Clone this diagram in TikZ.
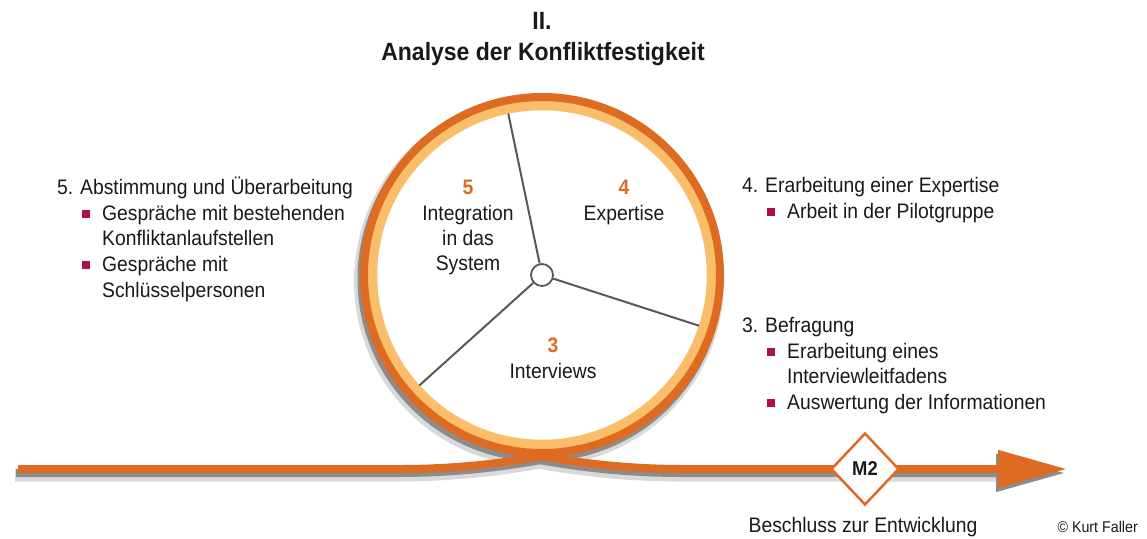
\documentclass[tikz,border=0pt]{standalone}
\usepackage{fontspec}
\setmainfont{Liberation Sans}[FakeStretch=0.92]
\usetikzlibrary{shapes,arrows.meta,calc}
\definecolor{ringOrange}{RGB}{221,107,34}
\definecolor{ringLight}{RGB}{250,190,106}
\definecolor{spokeGray}{RGB}{88,88,90}
\definecolor{bulletRed}{RGB}{172,18,62}
\definecolor{textBlack}{RGB}{25,25,25}
\newcommand{\sqbullet}{\makebox[20pt][l]{\textcolor{bulletRed}{\rule[2.5pt]{7.5pt}{7.5pt}}}}
\newcommand{\listnum}[1]{\makebox[23pt][l]{#1}}
\tikzset{%
  >={Triangle[length=69pt,width=36pt]},
  % Specifications for style of nodes:
          txt/.style = {inner sep=0pt, anchor=base west, text=textBlack,
                        font=\fontsize{21}{26}\selectfont},
      ringtxt/.style = {txt, anchor=base},
      ringnum/.style = {ringtxt, text=ringOrange,
                        font=\fontsize{21}{26}\selectfont\bfseries},
    milestone/.style = {diamond, draw=ringOrange, line width=2.5pt, fill=white,
                        minimum width=68pt, minimum height=72pt, inner sep=0pt,
                        text=textBlack, font=\fontsize{20}{24}\selectfont\bfseries},
        track/.style = {draw=ringOrange, line width=8pt},
   shadowSoft/.style = {draw=black!15, line width=#1},
   shadowHard/.style = {draw=black!45, line width=#1},
        spoke/.style = {draw=spokeGray, line width=2pt},
}

\begin{document}
\begin{tikzpicture}[x=1pt, y=-1pt]
\useasboundingbox (0,0) rectangle (1147,538);

% fixed points
\coordinate (wheelCentre) at (542,275);
\coordinate (lineStart) at (18,469);
\coordinate (arrowTip) at (1067,469);
\coordinate (loopIn) at ($(wheelCentre)+(-78:178pt)$);
\coordinate (loopOut) at ($(wheelCentre)+(-102:178pt)$);
\coordinate (rimTop) at ($(wheelCentre)+(101.8:165pt)$);
\coordinate (rimRight) at ($(wheelCentre)+(-17.9:165pt)$);
\coordinate (rimLeft) at ($(wheelCentre)+(222:165pt)$);

% shadows (plain numbers, so that the shift applies)
\begin{scope}[shift={(-3,6)}]
\draw[shadowSoft=13pt] (18,469) -- (400,469) .. controls (480,469) and (540,457) .. (579,449);
\draw[shadowSoft=13pt] (505,449) .. controls (544,457) and (604,469) .. (684,469) -- (1000,469);
\draw[shadowSoft=14pt] (542,275) circle[radius=178pt];
\end{scope}
\begin{scope}[shift={(-2,4)}]
\draw[shadowHard=8pt] (18,469) -- (400,469) .. controls (480,469) and (540,457) .. (579,449);
\draw[shadowHard=8pt, ->] (505,449) .. controls (544,457) and (604,469) .. (684,469) -- (1067,469);
\draw[shadowHard=9pt] (542,275) circle[radius=178pt];
\end{scope}

% wheel
\fill[white] (wheelCentre) circle[radius=165pt];
\draw[draw=ringLight, line width=9.5pt] (wheelCentre) circle[radius=169.5pt];
\node (hub) at (wheelCentre) [circle, draw=spokeGray, line width=1.8pt, fill=white,
                              minimum size=22pt, inner sep=0pt] {};
\draw[spoke] (hub) -- (rimTop);
\draw[spoke] (hub) -- (rimRight);
\draw[spoke] (hub) -- (rimLeft);

% the track with its loop
\draw[track] (lineStart) -- (400,469) .. controls (480,469) and (540,457) .. (loopIn);
\draw[track, ->] (loopOut) .. controls (544,457) and (604,469) .. (684,469) -- (arrowTip);
\draw[track] (wheelCentre) circle[radius=178pt];

\node (m2) at (865,469) [milestone] {M2};

% title
\node (titleNum) at (542,29) [txt, anchor=base, font=\fontsize{25}{30}\selectfont\bfseries] {II.};
\node (titleText) at (543,60) [txt, anchor=base, font=\fontsize{25}{30}\selectfont\bfseries] {Analyse der Konfliktfestigkeit};

% wheel labels
\node (numFive) at (468,194) [ringnum] {5};
\node (intLineA) at (468,220) [ringtxt] {Integration};
\node (intLineB) at (468,245) [ringtxt] {in das};
\node (intLineC) at (468,270) [ringtxt] {System};
\node (numFour) at (624,194) [ringnum] {4};
\node (expLabel) at (624,220) [ringtxt] {Expertise};
\node (numThree) at (553,352) [ringnum] {3};
\node (intvLabel) at (553,378) [ringtxt] {Interviews};

% left list
\node (abstHead) at (57,194) [txt] {\listnum{5.}Abstimmung und Überarbeitung};
\node (abstItemA) at (82,220) [txt] {\sqbullet Gespräche mit bestehenden};
\node (abstItemAb) at (102,245) [txt] {Konfliktanlaufstellen};
\node (abstItemB) at (82,271) [txt] {\sqbullet Gespräche mit};
\node (abstItemBb) at (102,297) [txt] {Schlüsselpersonen};

% right lists
\node (expHead) at (742,192) [txt] {\listnum{4.}Erarbeitung einer Expertise};
\node (expItem) at (767,218) [txt] {\sqbullet Arbeit in der Pilotgruppe};
\node (befHead) at (742,332) [txt] {\listnum{3.}Befragung};
\node (befItemA) at (767,358) [txt] {\sqbullet Erarbeitung eines};
\node (befItemAb) at (787,383) [txt] {Interviewleitfadens};
\node (befItemB) at (767,409) [txt] {\sqbullet Auswertung der Informationen};

% bottom
\node (decision) at (863,532) [txt, anchor=base] {Beschluss zur Entwicklung};
\node (copyright) at (1138,532) [txt, anchor=base east, font=\fontsize{15.5}{18}\selectfont] {© Kurt Faller};
\end{tikzpicture}
\end{document}
